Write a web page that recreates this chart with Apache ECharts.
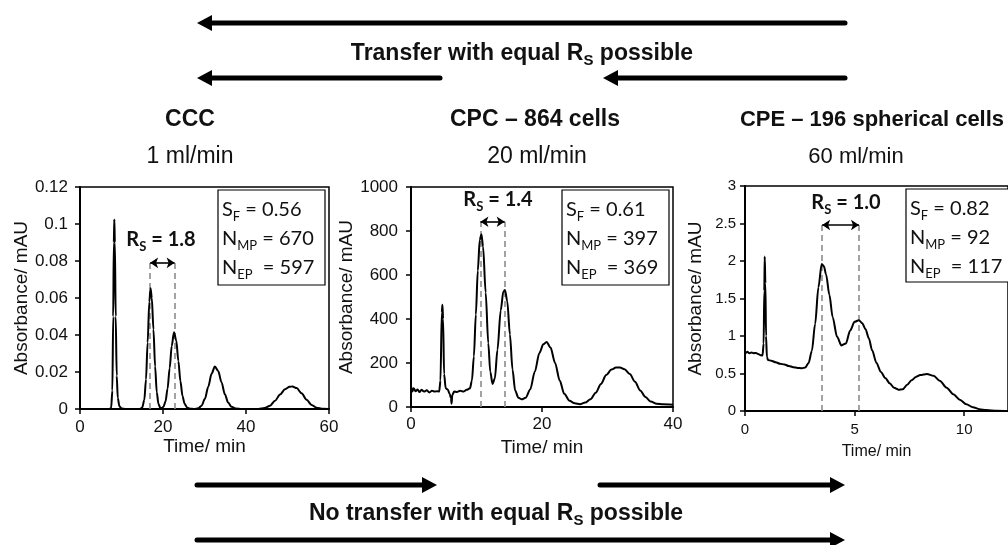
<!DOCTYPE html>
<html><head><meta charset="utf-8">
<script src="https://cdn.jsdelivr.net/npm/echarts@6/dist/echarts.min.js"></script>
<style>html,body{margin:0;padding:0;background:#fff}#c{width:1008px;height:545px}</style>
</head><body><div id="c"></div>
<script>
// ---- data (time in min, absorbance in mAU) ----
const cccData = [[0,0],[7.0,0],[7.5,0.0005],[7.8,0.01],[8.0,0.05],[8.15,0.09],[8.27,0.1025],[8.4,0.09],[8.6,0.05],[8.85,0.018],[9.1,0.006],[9.5,0.0015],[10,0.0003],[11,0],[14.5,0],
  [15,0.0008],[15.5,0.005],[15.9,0.016],[16.3,0.036],[16.7,0.058],[17.0,0.0653],[17.3,0.06],[17.7,0.043],[18.1,0.023],[18.5,0.009],[18.9,0.0028],[19.3,0.0008],[19.7,0.0004],
  [20.1,0.0012],[20.6,0.004],[21.1,0.011],[21.6,0.022],[22.1,0.034],[22.65,0.0415],[23.2,0.037],[23.7,0.026],[24.2,0.015],[24.7,0.007],[25.2,0.0028],[25.8,0.0008],[26.5,0.0002],[27.5,0],
  [28.5,0.0004],[29.3,0.0018],[30.1,0.0055],[30.9,0.012],[31.7,0.019],[32.5,0.023],[33.3,0.0205],[34.1,0.0145],[34.9,0.008],[35.7,0.0035],[36.5,0.0012],[37.5,0.0003],[39,0],[43,0],
  [44.5,0.0005],[45.8,0.0018],[47,0.0045],[48.2,0.0078],[49.4,0.0107],[50.5,0.012],[51.2,0.0122],[52.2,0.0113],[53.4,0.0085],[54.6,0.005],[55.8,0.0022],[57,0.0007],[58.5,0.0001],[60,0]];
const cpcData = [[0,95],[0.2,70],[0.4,85],[0.7,72],[1.0,80],[1.3,68],[1.6,78],[2.0,70],[2.4,76],[2.8,66],[3.2,74],[3.6,70],[4.0,72],[4.3,70],[4.5,120],[4.7,430],[4.8,465],[4.9,400],[5.05,150],[5.3,85],[5.6,80],[5.9,60],[6.1,40],[6.2,15],[6.3,55],[6.6,70],[7.0,68],[7.5,74],[8.0,70],[8.5,78],[9.0,85],
  [9.3,120],[9.6,230],[9.9,420],[10.2,620],[10.5,760],[10.75,785],[11.0,730],[11.4,520],[11.8,290],[12.1,160],[12.45,105],[12.8,130],[13.2,260],[13.7,440],[14.1,525],[14.35,532],[14.7,480],[15.1,330],[15.5,170],[15.9,75],[16.4,42],[16.9,35],[17.5,42],
  [18.2,80],[18.9,160],[19.6,245],[20.2,285],[20.7,296],[21.3,270],[22.0,200],[22.7,120],[23.4,60],[24.2,28],[25.0,17],[25.8,13],[26.6,20],[27.4,35],[28.2,65],[29.0,105],[29.8,145],[30.6,170],[31.3,179],[31.9,180],[32.6,172],[33.4,150],[34.2,115],[35.0,75],[35.8,45],[36.6,25],[37.5,15],[38.5,12],[40,10]];
const cpeData = [[0,0.76],[0.1,0.79],[0.2,0.77],[0.3,0.78],[0.4,0.77],[0.5,0.775],[0.6,0.76],[0.7,0.745],[0.8,0.74],[0.85,0.9],[0.88,1.6],[0.9,2.06],[0.93,1.7],[0.96,1.0],[1.0,0.72],[1.05,0.68],[1.2,0.67],[1.4,0.65],[1.6,0.63],[1.8,0.62],[2.0,0.6],[2.2,0.585],[2.4,0.575],[2.6,0.57],[2.75,0.58],
  [2.9,0.64],[3.05,0.8],[3.2,1.16],[3.35,1.65],[3.5,1.96],[3.6,1.93],[3.7,1.82],[3.85,1.55],[4.0,1.25],[4.2,0.99],[4.4,0.875],[4.6,0.9],[4.8,1.075],[5.0,1.19],[5.2,1.21],[5.35,1.17],[5.5,1.09],[5.65,0.97],[5.8,0.81],[6.0,0.64],[6.2,0.52],[6.4,0.44],[6.6,0.37],[6.8,0.31],[7.0,0.285],[7.2,0.29],
  [7.4,0.35],[7.6,0.41],[7.8,0.455],[8.0,0.48],[8.3,0.495],[8.6,0.47],[8.9,0.4],[9.2,0.31],[9.5,0.225],[9.8,0.15],[10.1,0.09],[10.4,0.05],[10.7,0.025],[11.0,0.012],[11.5,0.003],[12,0]];

const panelTitles = ['CCC', 'CPC \u2013 864 cells', 'CPE \u2013 196 spherical cells'];
const flowRates = ['1 ml/min', '20 ml/min', '60 ml/min'];
const yMax = [0.12, 1000, 3];
const yStep = [0.02, 200, 0.5];
const xMax = [60, 40, 12];
const xStep = [20, 20, 5];
const rsValues = ['1.8', '1.4', '1.0'];
const rsTimes = [[16.9, 22.8], [10.6, 14.3], [3.52, 5.2]];
const rsLevel = [0.079, 842, 2.48];
const sfValues = ['0.56', '0.61', '0.82'];
const nmpValues = ['670', '397', '92'];
const nepValues = ['597', '369', '117'];
const topLabel = 'Transfer with equal R';
const bottomLabel = 'No transfer with equal R';

// ---- layout ----
const grids = [
  {left: 80, top: 187, width: 249, height: 222},
  {left: 411, top: 187, width: 262, height: 220},
  {left: 745, top: 186, width: 272, height: 225}
];
const tickFont = [17, 17, 15];
const xNameFont = [19, 19, 16];
const xNameGap = [26, 31, 33];
const yNameGap = [46, 46, 40];
const xLabelMargin = [10, 9, 11];
const yLabelMargin = [12, 13, 9];
const boxes = [
  {x: 218, y: 190, w: 107, h: 95, tx: 222, ty: 195},
  {x: 562, y: 190, w: 107, h: 95, tx: 566, ty: 195},
  {x: 906, y: 189, w: 120, h: 93, tx: 910, ty: 194}
];
const rsLabelPos = [[161, 240], [498, 200], [846, 203]];
const titleX = [190, 535, 872];
const flowX = [190, 537, 856];
const headFont = [23, 23, 22];

const SANS = "'Liberation Sans', Arial, sans-serif";
const CAL = "Lato, 'Open Sans', sans-serif";
const TXT = '#111';

const datasets = [cccData, cpcData, cpeData];

function arrow(x1, x2, y) {
  const dir = x2 > x1 ? 1 : -1;
  const hl = 15, hw = 8;
  return [
    {type: 'line', shape: {x1: x1, y1: y, x2: x2 - dir * hl + dir * 2, y2: y},
     style: {stroke: '#000', lineWidth: 5, lineCap: 'round'}, silent: true},
    {type: 'polygon', shape: {points: [[x2, y], [x2 - dir * hl, y - hw], [x2 - dir * hl, y + hw]]},
     style: {fill: '#000'}, silent: true}
  ];
}

const graphic = [];
graphic.push(...arrow(845, 197, 23));
graphic.push(...arrow(440, 197, 78));
graphic.push(...arrow(845, 603, 78));
graphic.push(...arrow(197, 437, 485));
graphic.push(...arrow(600, 845, 485));
graphic.push(...arrow(197, 845, 540));

const bigRich = {
  b: {fontFamily: SANS, fontWeight: 'bold', fontSize: 23, fill: TXT, lineHeight: 30},
  s: {fontFamily: SANS, fontWeight: 'bold', fontSize: 15, fill: TXT, lineHeight: 30, padding: [13, 0, 0, 0]}
};
graphic.push({type: 'text', x: 522, y: 54, silent: true,
  style: {text: '{b|' + topLabel + '}{s|S}{b| possible}', rich: bigRich, align: 'center', verticalAlign: 'middle'}});
graphic.push({type: 'text', x: 496, y: 514, silent: true,
  style: {text: '{b|' + bottomLabel + '}{s|S}{b| possible}', rich: bigRich, align: 'center', verticalAlign: 'middle'}});

for (let i = 0; i < 3; i++) {
  graphic.push({type: 'text', x: titleX[i], y: 120, silent: true,
    style: {text: panelTitles[i], font: 'bold ' + headFont[i] + 'px ' + SANS, fill: TXT, align: 'center', verticalAlign: 'middle'}});
  graphic.push({type: 'text', x: flowX[i], y: 157, silent: true,
    style: {text: flowRates[i], font: headFont[i] + 'px ' + SANS, fill: TXT, align: 'center', verticalAlign: 'middle'}});
  const b = boxes[i];
  graphic.push({type: 'rect', shape: {x: b.x, y: b.y, width: b.w, height: b.h},
    style: {fill: '#fff', stroke: '#000', lineWidth: 1.2}, silent: true, z: 10});
  graphic.push({type: 'text', x: b.tx, y: b.ty, silent: true, z: 11,
    style: {
      text: '{n|S}{s|F}{n| = ' + sfValues[i] + '}\n{n|N}{s|MP}{n| = ' + nmpValues[i] + '}\n{n|N}{s|EP}{n|  = ' + nepValues[i] + '}',
      rich: {
        n: {fontFamily: CAL, fontSize: 20, fill: TXT, lineHeight: 29},
        s: {fontFamily: CAL, fontSize: 13, fill: TXT, lineHeight: 29, padding: [14, 0, 0, 0]}
      },
      align: 'left', verticalAlign: 'top'
    }});
  graphic.push({type: 'text', x: rsLabelPos[i][0], y: rsLabelPos[i][1], silent: true, z: 11,
    style: {
      text: '{n|R}{s|S}{n| = ' + rsValues[i] + '}',
      rich: {
        n: {fontFamily: CAL, fontWeight: 'bold', fontSize: 20, fill: TXT, lineHeight: 26},
        s: {fontFamily: CAL, fontWeight: 'bold', fontSize: 13, fill: TXT, lineHeight: 26, padding: [13, 0, 0, 0]}
      },
      align: 'center', verticalAlign: 'middle'
    }});
}

const option = {
  animation: false,
  backgroundColor: '#fff',
  grid: grids.map(g => Object.assign({show: true, borderColor: '#000', borderWidth: 1.5, containLabel: false}, g)),
  xAxis: grids.map((g, i) => ({
    gridIndex: i, type: 'value', min: 0, max: xMax[i], interval: xStep[i],
    name: 'Time/ min', nameLocation: 'middle', nameGap: xNameGap[i],
    nameTextStyle: {fontFamily: SANS, fontSize: xNameFont[i], color: TXT},
    axisLine: {show: true, onZero: false, lineStyle: {color: '#000', width: 2}},
    axisTick: {show: true, inside: false, length: 5, lineStyle: {color: '#000', width: 1.5}},
    axisLabel: {fontFamily: SANS, fontSize: tickFont[i], color: TXT, margin: xLabelMargin[i], showMaxLabel: i !== 2},
    splitLine: {show: false}
  })),
  yAxis: grids.map((g, i) => ({
    gridIndex: i, type: 'value', min: 0, max: yMax[i], interval: yStep[i],
    name: 'Absorbance/ mAU', nameLocation: 'middle', nameGap: yNameGap[i],
    nameTextStyle: {fontFamily: SANS, fontSize: 19, color: TXT},
    axisLine: {show: true, onZero: false, lineStyle: {color: '#000', width: 2}},
    axisTick: {show: true, inside: false, length: 5, lineStyle: {color: '#000', width: 1.5}},
    axisLabel: {fontFamily: SANS, fontSize: tickFont[i], color: TXT, margin: yLabelMargin[i],
      formatter: v => String(Math.round(v * 1000) / 1000)},
    splitLine: {show: false}
  })),
  series: datasets.map((d, i) => ({
    type: 'line', xAxisIndex: i, yAxisIndex: i, data: d,
    showSymbol: false, smooth: 0.3, smoothMonotone: 'x',
    lineStyle: {color: '#000', width: 2}, silent: true, z: 5,
    markLine: {
      silent: true, symbol: ['none', 'none'], label: {show: false}, animation: false,
      data: [
        [{coord: [rsTimes[i][0], 0], lineStyle: {color: '#8c8c8c', width: 1.6, type: [6, 4]}}, {coord: [rsTimes[i][0], rsLevel[i]]}],
        [{coord: [rsTimes[i][1], 0], lineStyle: {color: '#8c8c8c', width: 1.6, type: [6, 4]}}, {coord: [rsTimes[i][1], rsLevel[i]]}],
        [{coord: [rsTimes[i][0], rsLevel[i]], symbol: 'arrow', symbolSize: 8, lineStyle: {color: '#000', width: 1.6, type: 'solid'}},
         {coord: [rsTimes[i][1], rsLevel[i]], symbol: 'arrow', symbolSize: 8}]
      ]
    }
  })),
  graphic: graphic
};

const chart = echarts.init(document.getElementById('c'), null, {renderer: 'canvas'});
chart.setOption(option);
</script>
</body></html>
